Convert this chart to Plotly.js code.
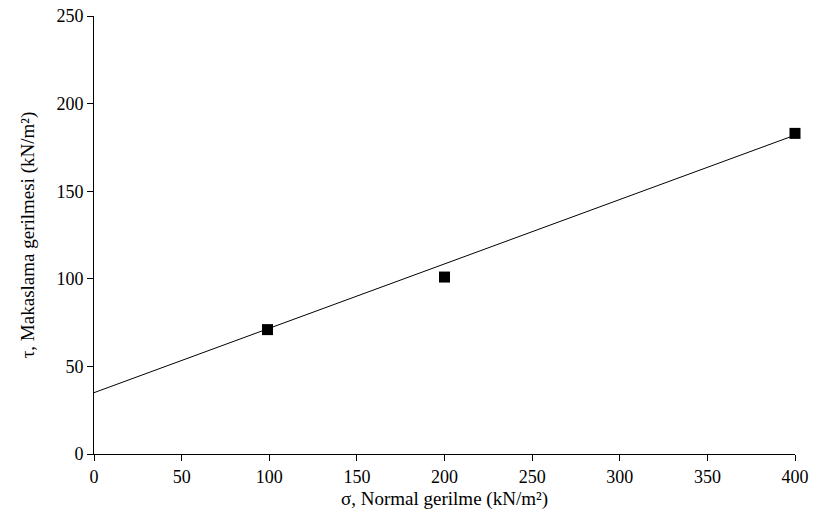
<!DOCTYPE html>
<html>
<head>
<meta charset="utf-8">
<script src="https://cdn.plot.ly/plotly-3.0.1.min.js"></script>
<style>html,body{margin:0;padding:0;background:#fff;}#chart{width:814px;height:516px;}</style>
</head>
<body>
<div id="chart"></div>
<script>
// Measured data points
const sigma = [99, 200, 400];
const tau = [71, 101, 183];
// Fitted line endpoints
const fitSigma = [0, 400];
const fitTau = [35, 182];
const xTicks = [0, 50, 100, 150, 200, 250, 300, 350, 400];
const yTicks = [0, 50, 100, 150, 200, 250];

const fam = '"Liberation Serif", "Times New Roman", serif';
const tickFont = {family: fam, size: 18, color: '#000'};
const titleFont = {family: fam, size: 19, color: '#000'};

const traces = [
  {x: fitSigma, y: fitTau, mode: 'lines', line: {color: '#000', width: 1}, hoverinfo: 'skip', showlegend: false, cliponaxis: false},
  {x: sigma, y: tau, mode: 'markers', marker: {symbol: 'square', size: 11, color: '#000'}, showlegend: false, cliponaxis: false}
];

const layout = {
  width: 814, height: 516,
  margin: {l: 94, r: 19, t: 16, b: 62},
  paper_bgcolor: '#fff', plot_bgcolor: '#fff',
  font: tickFont,
  showlegend: false,
  xaxis: {
    range: [0, 400], tickvals: xTicks, ticktext: xTicks.map(String),
    showgrid: false, zeroline: false, showline: true, linecolor: '#000', linewidth: 1,
    ticks: 'outside', ticklen: 6, tickcolor: '#000', tickfont: tickFont,
    title: {text: 'σ, Normal gerilme (kN/m²)', font: titleFont, standoff: 6}
  },
  yaxis: {
    range: [0, 250], tickvals: yTicks, ticktext: yTicks.map(String),
    showgrid: false, zeroline: false, showline: true, linecolor: '#000', linewidth: 1,
    ticks: 'outside', ticklen: 6, tickcolor: '#000', tickfont: tickFont,
    title: {text: 'τ, Makaslama gerilmesi (kN/m²)', font: titleFont, standoff: 16}
  }
};

Plotly.newPlot('chart', traces, layout, {displayModeBar: false, staticPlot: true});
</script>
</body>
</html>
